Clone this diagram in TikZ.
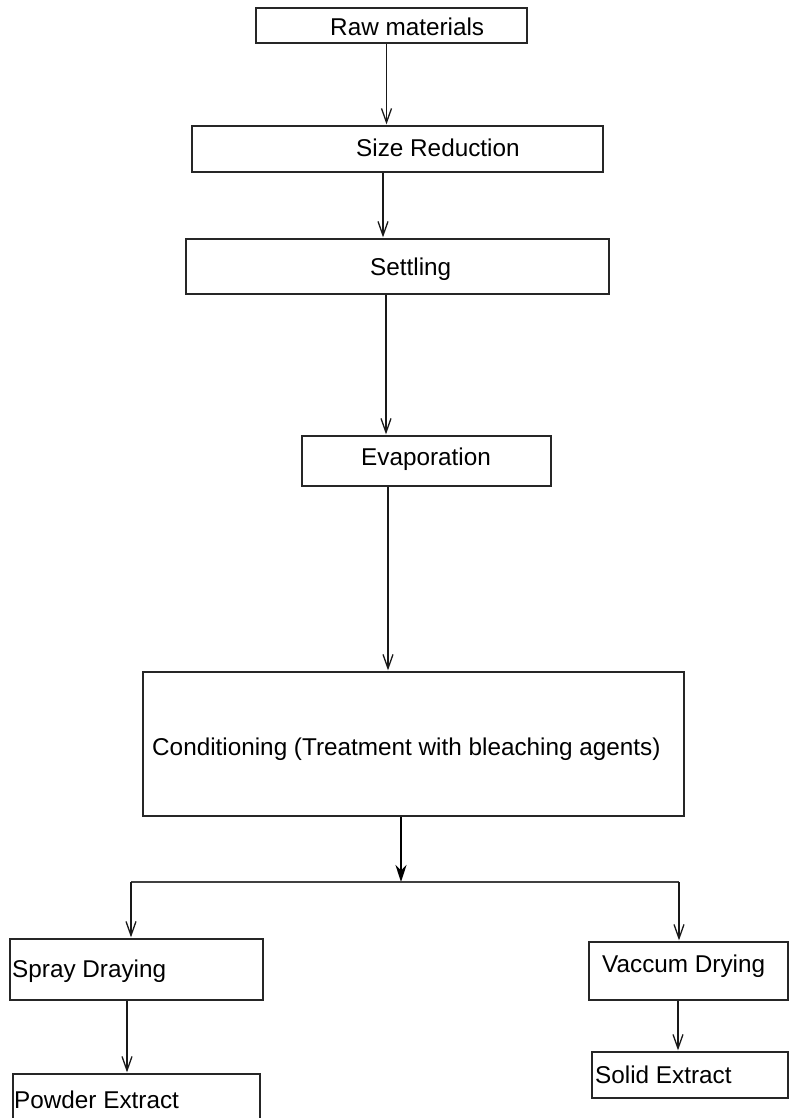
\documentclass[tikz,border=0pt]{standalone}
\usepackage{fontspec}
\setmainfont{Liberation Sans}
\usetikzlibrary{arrows.meta}
\tikzset{
  box/.style={draw=black!85, line width=1.3pt, rectangle, inner sep=0pt},
  txt/.style={inner sep=0pt, anchor=base west, font=\fontsize{24.3}{28}\selectfont},
  arr/.style={draw=black!90, line width=1.3pt, -{Straight Barb[length=14pt,width=10pt,line width=1.3pt]}},
  thickarr/.style={draw=black, line width=2.2pt, -{Stealth[length=17pt,width=11pt]}},
  ln/.style={draw=black!75, line width=1.3pt}
}
\begin{document}
\begin{tikzpicture}[x=1pt,y=-1pt]
\useasboundingbox (0,0) rectangle (789,1118);
\clip (0,0) rectangle (789,1118);
% boxes (centre, width, height)
\node[box, minimum width=271pt, minimum height=35pt] (raw) at (391.5,25.5) {};
\node[box, minimum width=411pt, minimum height=46pt] (size) at (397.5,149) {};
\node[box, minimum width=423pt, minimum height=55pt] (settle) at (397.5,266.5) {};
\node[box, minimum width=249pt, minimum height=50pt] (evap) at (426.5,461) {};
\node[box, minimum width=541pt, minimum height=144pt] (cond) at (413.5,744) {};
\node[box, minimum width=253pt, minimum height=61pt] (spray) at (136.5,969.5) {};
\node[box, minimum width=247pt, minimum height=80pt] (powder) at (136.5,1114) {};
\node[box, minimum width=199pt, minimum height=58pt] (vac) at (688.5,971) {};
\node[box, minimum width=196pt, minimum height=46pt] (solid) at (690,1075) {};
% texts
\node[txt] (rawt) at (330,36) {Raw materials};
\node[txt] (sizet) at (356,157) {Size Reduction};
\node[txt] (settlet) at (370,275) {Settling};
\node[txt] (evapt) at (361,465) {Evaporation};
\node[txt] (condt) at (152,755) {Conditioning (Treatment with bleaching agents)};
\node[txt] (sprayt) at (12,977) {Spray Draying};
\node[txt] (powdert) at (14,1108) {Powder Extract};
\node[txt] (vact) at (602,972) {Vaccum Drying};
\node[txt] (solidt) at (595,1083) {Solid Extract};
% connectors
\draw[arr] (raw.south -| 386.5,0) -- ([yshift=1pt]size.north -| 386.5,0);
\draw[arr] (size.south -| 383,0) -- ([yshift=1pt]settle.north -| 383,0);
\draw[arr] (settle.south -| 386,0) -- ([yshift=1pt]evap.north -| 386,0);
\draw[arr] (evap.south -| 388,0) -- ([yshift=1pt]cond.north -| 388,0);
\coordinate (split) at (401,882);
\coordinate (sl) at (131,882);
\coordinate (sr) at (679,882);
\draw[thickarr] (cond.south -| split) -- (split);
\draw[ln] (sl) -- (sr);
\draw[arr] (sl) -- ([yshift=1pt]spray.north -| sl);
\draw[arr] (sr) -- ([yshift=1pt]vac.north -| sr);
\draw[arr] (spray.south -| 127,0) -- ([yshift=1pt]powder.north -| 127,0);
\draw[arr] (vac.south -| 678,0) -- ([yshift=1pt]solid.north -| 678,0);
\end{tikzpicture}
\end{document}
